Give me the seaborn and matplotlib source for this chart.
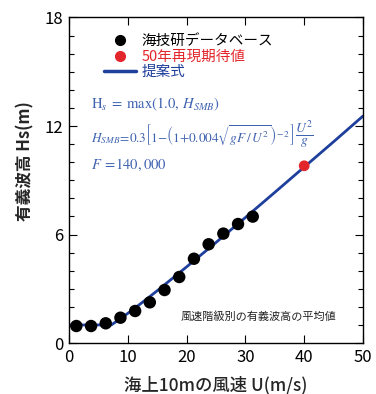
import matplotlib
matplotlib.use("Agg")
import matplotlib.pyplot as plt
import seaborn as sns
import pandas as pd
from matplotlib.lines import Line2D
from matplotlib.ticker import MultipleLocator

# Mean significant wave height per wind-speed class (database)
wind_db = [1.25, 3.75, 6.25, 8.75, 11.25, 13.75, 16.25, 18.75, 21.25, 23.75, 26.25, 28.75, 31.25]
hs_db = [0.94, 0.94, 1.09, 1.40, 1.77, 2.25, 2.93, 3.65, 4.66, 5.46, 6.05, 6.58, 6.99]

# 50-year return value
wind_rp = [40.0]
hs_rp = [9.8]

# Proposed formula curve
wind_fit = [0, 7.2, 8, 9, 10, 11, 12, 13, 15, 20, 25, 30, 35, 40, 45, 50]
hs_fit = [1.0, 1.0, 1.18, 1.41, 1.64, 1.88, 2.13, 2.38, 2.89, 4.21, 5.56, 6.94, 8.33, 9.73, 11.13, 12.55]

x_ticks = [0, 10, 20, 30, 40, 50]
y_ticks = [0, 6, 12, 18]

sns.set_theme(style="ticks")
plt.rcParams["font.family"] = ["Noto Sans CJK JP", "DejaVu Sans"]
plt.rcParams["mathtext.fontset"] = "stix"

fig = plt.figure(figsize=(3.76, 3.94), dpi=100)
ax = fig.add_axes([0.1835, 0.1294, 0.7819, 0.8262])

line_col = "#1f3f9c"
eq_col = "#3f62b0"
red = "#e3262b"

df_fit = pd.DataFrame({"U": wind_fit, "Hs": hs_fit})
df_db = pd.DataFrame({"U": wind_db, "Hs": hs_db})
df_rp = pd.DataFrame({"U": wind_rp, "Hs": hs_rp})

sns.lineplot(data=df_fit, x="U", y="Hs", ax=ax, color=line_col, linewidth=2.0, zorder=2)
sns.scatterplot(data=df_db, x="U", y="Hs", ax=ax, color="black", s=80, edgecolor="none", zorder=3)
sns.scatterplot(data=df_rp, x="U", y="Hs", ax=ax, color=red, s=60, edgecolor="none", zorder=3)

ax.set_xlim(0, 50)
ax.set_ylim(0, 18)
ax.set_xticks(x_ticks)
ax.set_yticks(y_ticks)
ax.yaxis.set_minor_locator(MultipleLocator(1))
ax.tick_params(axis="both", which="both", direction="in", top=True, right=True,
               labelsize=12, colors="black", width=0.8)
ax.tick_params(axis="both", which="major", length=6, pad=4)
ax.tick_params(axis="y", which="minor", length=3.5)
for sp in ax.spines.values():
    sp.set_linewidth(1.0)
    sp.set_color("black")

ax.set_xlabel("海上10mの風速 U(m/s)", fontsize=12.5, fontweight="medium")
ax.xaxis.set_label_coords(0.5, -0.1)
ax.set_ylabel("有義波高 Hs(m)", fontsize=12, fontweight="bold")
ax.yaxis.set_label_coords(-0.118, 0.56)

handles = [
    Line2D([], [], marker="o", linestyle="none", color="black", markersize=7),
    Line2D([], [], marker="o", linestyle="none", color=red, markersize=7),
    Line2D([], [], color=line_col, linewidth=2.5),
]
labels = ["海技研データベース", "50年再現期待値", "提案式"]
leg = ax.legend(handles, labels, loc="upper left", bbox_to_anchor=(0.085, 0.98),
                frameon=False, fontsize=10.5, handlelength=2.2, handletextpad=0.35,
                labelspacing=0.1, borderpad=0.2)
for txt, c in zip(leg.get_texts(), ["black", red, line_col]):
    txt.set_color(c)

ax.text(0.075, 0.734, r"$\mathrm{H}_s\;=\;\mathrm{max}(1.0,\,H_{SMB})$",
        transform=ax.transAxes, color=eq_col, fontsize=10.5, va="center")
main_eq = ax.text(0.075, 0.639,
                  r"$H_{SMB}\!=\!0.3\left[1{-}\left(1{+}0.004\sqrt{gF\,/\,U^2}\right)^{\!-2}\right]$",
                  transform=ax.transAxes, color=eq_col, fontsize=9.5, va="center")
ax.text(0.075, 0.547, r"$F\;=\!140,000$",
        transform=ax.transAxes, color=eq_col, fontsize=10.5, va="center")

# U^2/g at full size, placed right after the bracket
fig.canvas.draw()
bb = main_eq.get_window_extent()
x_frac, _ = ax.transAxes.inverted().transform((bb.x1 + 1, bb.y0))
ax.text(x_frac, 0.639, r"$\frac{U^2}{g}$", transform=ax.transAxes,
        color=eq_col, fontsize=14, va="center")

ax.text(0.38, 0.083, "風速階級別の有義波高の平均値", transform=ax.transAxes,
        fontsize=8, color="#222222", va="center")

fig.savefig("out.png", dpi=100)
